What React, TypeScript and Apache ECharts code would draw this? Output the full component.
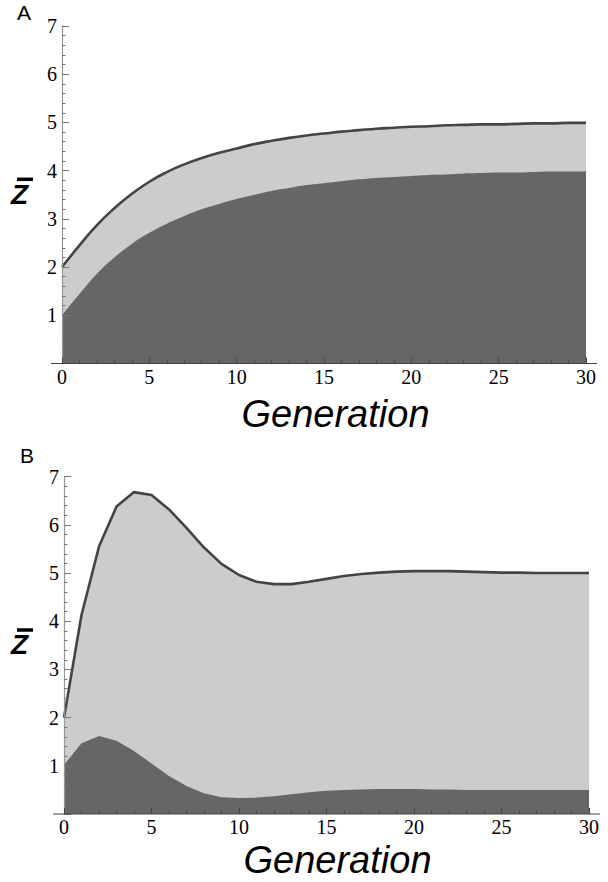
import React, { useEffect, useRef } from "react";
import * as echarts from "echarts";

const generations = Array.from({ length: 31 }, (_, i) => i);

const upperA = [2.0, 2.45, 2.87, 3.22, 3.52, 3.77, 3.97, 4.13, 4.26, 4.37, 4.46, 4.55, 4.62, 4.68, 4.73, 4.77, 4.81, 4.84, 4.87, 4.89, 4.91, 4.92, 4.94, 4.95, 4.96, 4.96, 4.97, 4.98, 4.98, 4.99, 4.99];
const lowerA = [1.0, 1.44, 1.86, 2.2, 2.48, 2.71, 2.9, 3.06, 3.2, 3.31, 3.41, 3.5, 3.58, 3.64, 3.7, 3.74, 3.78, 3.82, 3.85, 3.87, 3.89, 3.91, 3.92, 3.94, 3.95, 3.96, 3.96, 3.97, 3.98, 3.98, 3.99];

const upperB = [2.0, 4.13, 5.55, 6.38, 6.68, 6.62, 6.32, 5.94, 5.53, 5.19, 4.96, 4.82, 4.77, 4.77, 4.82, 4.88, 4.94, 4.98, 5.01, 5.03, 5.04, 5.04, 5.04, 5.03, 5.02, 5.01, 5.01, 5.0, 5.0, 5.0, 5.0];
const lowerB = [1.02, 1.47, 1.62, 1.52, 1.31, 1.05, 0.79, 0.58, 0.43, 0.35, 0.33, 0.34, 0.37, 0.41, 0.45, 0.48, 0.5, 0.51, 0.52, 0.52, 0.52, 0.51, 0.51, 0.5, 0.5, 0.5, 0.5, 0.5, 0.5, 0.5, 0.5];

const yTicks = ["", "1", "2", "3", "4", "5", "6", "7"];
const panelLabels = ["A", "B"];
const xTitle = "Generation";
const yTitle = "Z";

const DARK = "#666666";
const LIGHT = "#cccccc";
const LINE = "#444444";
const SERIF = "'Liberation Serif', 'Times New Roman', serif";

const grids = [
  { left: 62, top: 26, width: 524, height: 337.5 },
  { left: 64, top: 476.7, width: 525, height: 337.3 },
];
const xTitleY = [414, 860];

export default function App() {
  const ref = useRef<HTMLDivElement>(null);
  useEffect(() => {
    if (!ref.current) return;
    const chart = echarts.init(ref.current, null, { renderer: "svg" });
    const pairs = [
      [upperA, lowerA],
      [upperB, lowerB],
    ] as const;
    const xAxes = grids.map((_, i) => ({
      type: "value",
      gridIndex: i,
      min: 0,
      max: 30,
      interval: 5,
      z: 5,
      axisLine: { show: false },
      axisTick: { show: true, inside: true, length: 6, lineStyle: { color: "#444", width: 1 } },
      minorTick: { show: true, splitNumber: 5, length: 3.5, lineStyle: { color: "#444", width: 1 } },
      splitLine: { show: false },
      axisLabel: { color: "#000", fontFamily: SERIF, fontSize: 20, margin: 3 },
    }));
    const yAxes = grids.map((_, i) => ({
      type: "value",
      gridIndex: i,
      min: 0,
      max: 7,
      interval: 1,
      z: 5,
      axisLine: { show: true, lineStyle: { color: "#999", width: 1.2 } },
      axisTick: { show: true, inside: true, length: 7, lineStyle: { color: "#777", width: 1 } },
      minorTick: { show: true, splitNumber: 5, length: 3.5, lineStyle: { color: "#777", width: 1 } },
      splitLine: { show: false },
      axisLabel: {
        color: "#000",
        fontFamily: SERIF,
        fontSize: 20,
        margin: 5,
        formatter: (v: number) => yTicks[Math.round(v)] ?? "",
      },
    }));
    const series: any[] = [];
    pairs.forEach(([up, low], i) => {
      const smooth = i === 0;
      series.push({
        type: "line",
        xAxisIndex: i,
        yAxisIndex: i,
        data: generations.map((g, k) => [g, up[k]]),
        showSymbol: false,
        smooth,
        z: 2,
        lineStyle: { color: LINE, width: 2.6 },
        areaStyle: { color: LIGHT, opacity: 1 },
      });
      series.push({
        type: "line",
        xAxisIndex: i,
        yAxisIndex: i,
        data: generations.map((g, k) => [g, low[k]]),
        showSymbol: false,
        smooth,
        z: 3,
        lineStyle: { width: 0, color: DARK },
        areaStyle: { color: DARK, opacity: 1 },
      });
    });
    const graphic: any[] = [];
    grids.forEach((g, i) => {
      const bottom = g.top + g.height;
      const dy = g.top - grids[0].top;
      graphic.push({
        type: "line",
        z: 10,
        shape: { x1: g.left - 11, y1: bottom, x2: g.left + g.width + 11, y2: bottom },
        style: { stroke: "#444", lineWidth: 1.2 },
      });
      graphic.push({
        type: "text",
        z: 10,
        x: 17 + i * 3,
        y: 12.5 + dy + (i === 1 ? -8 : 0),
        style: {
          text: panelLabels[i],
          fontSize: 21,
          fontFamily: "Liberation Sans",
          fill: "#000",
          verticalAlign: "middle",
          align: "left",
        },
      });
      graphic.push({
        type: "text",
        z: 10,
        x: 335.5 + (g.left - grids[0].left),
        y: xTitleY[i],
        style: {
          text: xTitle,
          fontSize: 38,
          fontStyle: "italic",
          fontFamily: "Liberation Sans",
          fill: "#000",
          verticalAlign: "middle",
          align: "center",
        },
      });
      graphic.push({
        type: "text",
        z: 10,
        x: 11,
        y: 194 + dy,
        style: {
          text: yTitle,
          fontSize: 28,
          fontStyle: "italic",
          fontWeight: "bold",
          fontFamily: "Liberation Sans",
          fill: "#000",
          verticalAlign: "middle",
          align: "left",
        },
      });
      graphic.push({
        type: "line",
        z: 10,
        shape: { x1: 17, y1: 179.3 + dy, x2: 33, y2: 179.3 + dy },
        style: { stroke: "#000", lineWidth: 3.5 },
      });
    });
    chart.setOption({
      animation: false,
      backgroundColor: "#fff",
      grid: grids.map((g) => ({ ...g, containLabel: false })),
      xAxis: xAxes,
      yAxis: yAxes,
      series,
      graphic,
    });
    return () => chart.dispose();
  }, []);
  return (
    <div
      ref={ref}
      style={{ position: "fixed", left: 0, top: 0, width: 608, height: 882, background: "#fff" }}
    />
  );
}
